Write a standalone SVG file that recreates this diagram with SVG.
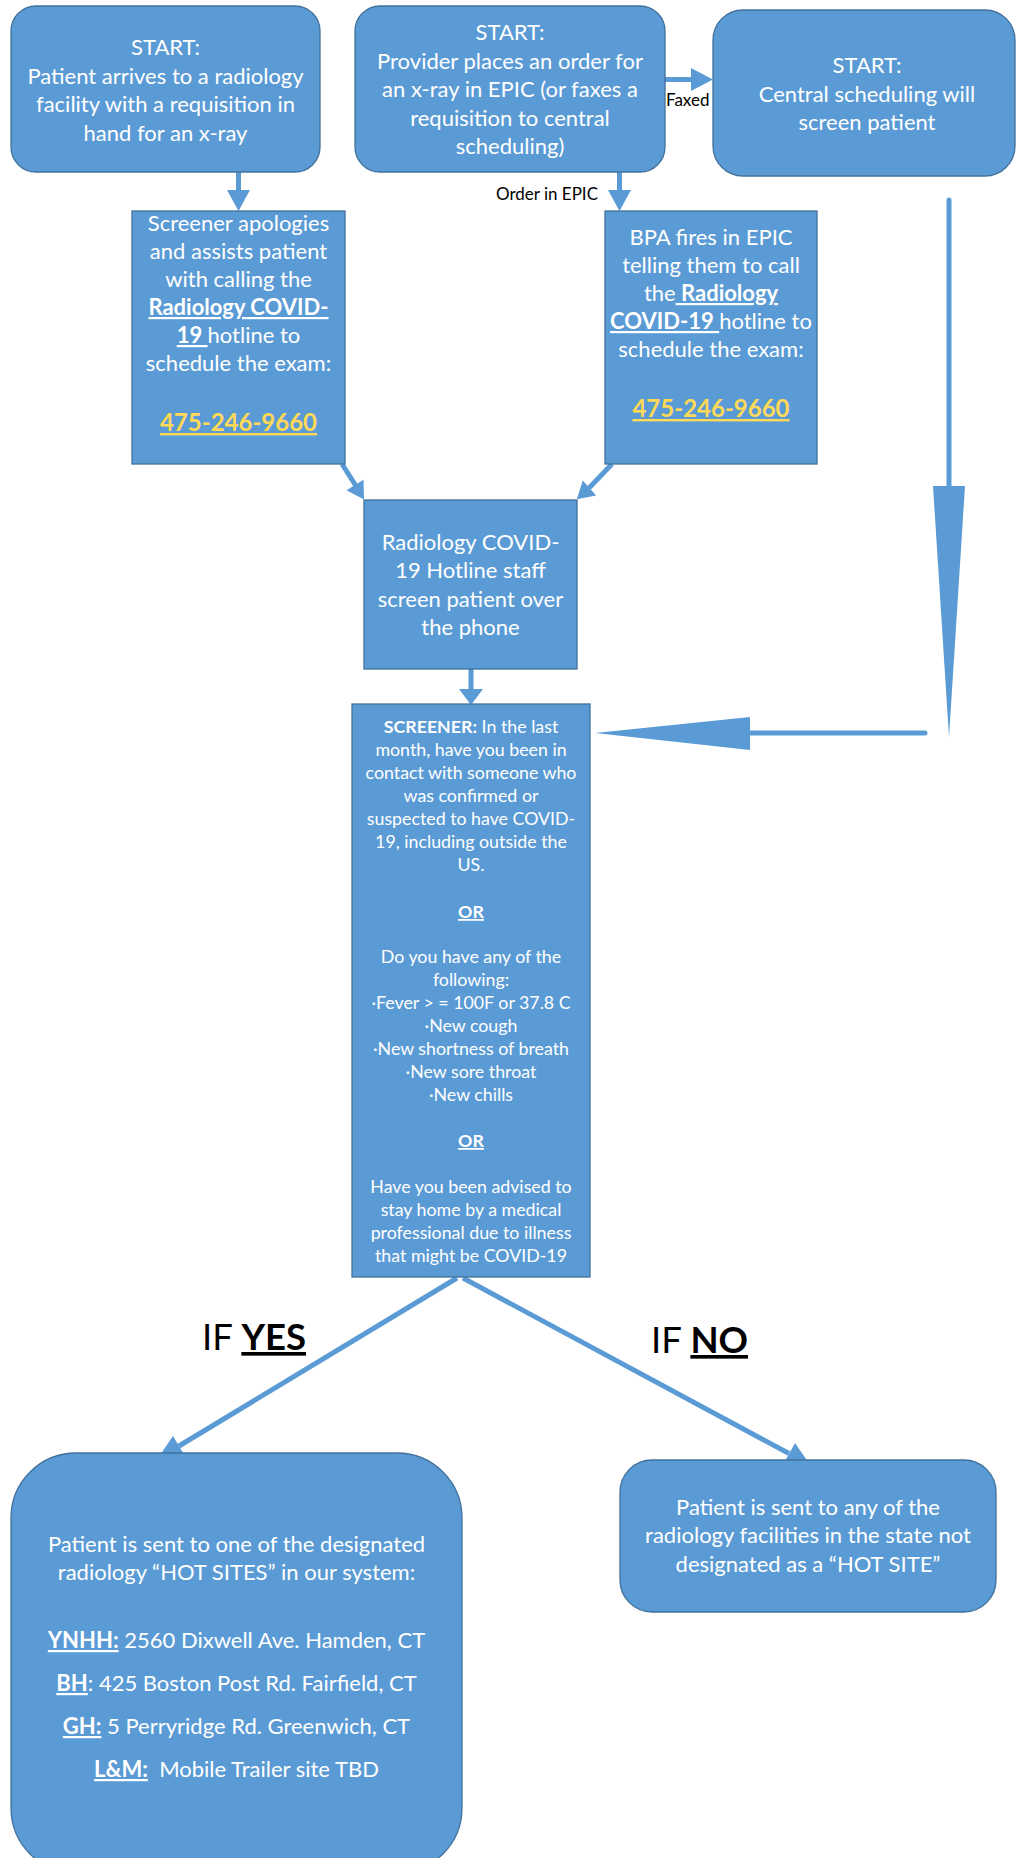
<svg xmlns="http://www.w3.org/2000/svg" width="1016" height="1858" viewBox="0 0 1016 1858">
<style>
text{font-family:Lato,"Liberation Sans",sans-serif;white-space:pre;}
.box{fill:#5B9BD5;stroke:#41719C;stroke-width:1.3;}
.t{fill:#FFFFFF;font-size:22px;text-anchor:middle;}
.s{fill:#FFFFFF;font-size:17.8px;text-anchor:middle;}
.ph{fill:#FFD957;font-size:24px;font-weight:bold;text-decoration:underline;}
.b{font-weight:bold;}
.u{text-decoration:underline;}
.lbl{fill:#000000;font-size:17px;}
.big{fill:#000000;font-size:36.5px;}
.ln{stroke:#5B9BD5;stroke-width:5;fill:none;}
.hd{fill:#5B9BD5;stroke:none;}
</style>
<rect width="1016" height="1858" fill="#FFFFFF"/>
<g id="connectors">
  <line class="ln" x1="238.5" y1="172" x2="238.5" y2="191" stroke-width="4.7"/>
  <polygon class="hd" points="227,190 250,190 238.5,211"/>
  <line class="ln" x1="619.5" y1="172" x2="619.5" y2="191" stroke-width="4.7"/>
  <polygon class="hd" points="608,190 631,190 619.5,211"/>
  <line class="ln" x1="665" y1="79.5" x2="692" y2="79.5" stroke-width="4.7"/>
  <polygon class="hd" points="691,68 691,91 713,79.5"/>
  <line class="ln" x1="342" y1="464" x2="356" y2="486"/>
  <polygon class="hd" points="363.5,479.7 346.5,490.3 364,499.5"/>
  <line class="ln" x1="612" y1="464" x2="589" y2="488"/>
  <polygon class="hd" points="596.2,495.5 582.8,480.5 576.8,499.3"/>
  <line class="ln" x1="471" y1="669" x2="471" y2="690" stroke-width="4.7"/>
  <polygon class="hd" points="459,689 483,689 471,705"/>
  <line class="ln" x1="949" y1="200" x2="949" y2="487" stroke-linecap="round"/>
  <polygon class="hd" points="933,486 965,486 949,737"/>
  <line class="ln" x1="925" y1="733" x2="749" y2="733" stroke-linecap="round"/>
  <polygon class="hd" points="750,717 750,750 595,733"/>
  <line class="ln" x1="457" y1="1278" x2="179" y2="1446" stroke-width="5.5"/>
  <polygon class="hd" points="173,1436 185,1456 158,1458"/>
  <line class="ln" x1="463" y1="1278" x2="789" y2="1453.5" stroke-width="5.5"/>
  <polygon class="hd" points="795,1443 783.4,1464 810.2,1465"/>
  <text class="lbl" x="666" y="106">Faxed</text>
  <text class="lbl" x="598" y="200" text-anchor="end" font-size="18">Order in EPIC</text>
  <text class="big" x="202" y="1350">IF <tspan class="b u">YES</tspan></text>
  <text class="big" x="651" y="1353">IF <tspan class="b u">NO</tspan></text>
</g>
<g id="start-walkin">
  <rect class="box" x="11" y="6" width="309" height="166" rx="25"/>
  <text class="t" x="165.5" y="55">START:</text>
  <text class="t" x="165.5" y="83.5">Patient arrives to a radiology</text>
  <text class="t" x="165.5" y="112">facility with a requisition in</text>
  <text class="t" x="165.5" y="140.5">hand for an x-ray</text>
</g>
<g id="start-provider">
  <rect class="box" x="355" y="6" width="310" height="166" rx="25"/>
  <text class="t" x="510" y="40">START:</text>
  <text class="t" x="510" y="68.5">Provider places an order for</text>
  <text class="t" x="510" y="97">an x-ray in EPIC (or faxes a</text>
  <text class="t" x="510" y="125.5">requisition to central</text>
  <text class="t" x="510" y="154">scheduling)</text>
</g>
<g id="start-central">
  <rect class="box" x="713" y="10" width="302" height="166" rx="30"/>
  <text class="t" x="867" y="73">START:</text>
  <text class="t" x="867" y="101.5">Central scheduling will</text>
  <text class="t" x="867" y="130">screen patient</text>
</g>
<g id="screener-apologies">
  <rect class="box" x="132" y="211" width="213" height="253"/>
  <text class="t" x="238.5" y="231">Screener apologies</text>
  <text class="t" x="238.5" y="259">and assists patient</text>
  <text class="t" x="238.5" y="287">with calling the</text>
  <text class="t" x="238.5" y="315"><tspan class="b u">Radiology COVID-</tspan></text>
  <text class="t" x="238.5" y="343"><tspan class="b u">19 </tspan>hotline to</text>
  <text class="t" x="238.5" y="371">schedule the exam:</text>
  <text class="t ph" x="238.5" y="431">475-246-9660</text>
</g>
<g id="bpa-fires">
  <rect class="box" x="605" y="211" width="212" height="253"/>
  <text class="t" x="711" y="245">BPA fires in EPIC</text>
  <text class="t" x="711" y="273">telling them to call</text>
  <text class="t" x="711" y="301">the<tspan class="b u"> Radiology</tspan></text>
  <text class="t" x="711" y="329"><tspan class="b u">COVID-19 </tspan>hotline to</text>
  <text class="t" x="711" y="357">schedule the exam:</text>
  <text class="t ph" x="711" y="417">475-246-9660</text>
</g>
<g id="hotline-staff">
  <rect class="box" x="364" y="500" width="213" height="169"/>
  <text class="t" x="470.5" y="550">Radiology COVID-</text>
  <text class="t" x="470.5" y="578">19 Hotline staff</text>
  <text class="t" x="470.5" y="607">screen patient over</text>
  <text class="t" x="470.5" y="635">the phone</text>
</g>
<g id="screener-questions">
  <rect class="box" x="352" y="704" width="238" height="573"/>
  <text class="s" x="471" y="733"><tspan class="b">SCREENER:</tspan> In the last</text>
  <text class="s" x="471" y="756">month, have you been in</text>
  <text class="s" x="471" y="779">contact with someone who</text>
  <text class="s" x="471" y="802">was confirmed or</text>
  <text class="s" x="471" y="825">suspected to have COVID-</text>
  <text class="s" x="471" y="848">19, including outside the</text>
  <text class="s" x="471" y="871">US.</text>
  <text class="s b u" x="471" y="918">OR</text>
  <text class="s" x="471" y="963">Do you have any of the</text>
  <text class="s" x="471" y="986">following:</text>
  <text class="s" x="471" y="1009">·Fever &gt; = 100F or 37.8 C</text>
  <text class="s" x="471" y="1032">·New cough</text>
  <text class="s" x="471" y="1055">·New shortness of breath</text>
  <text class="s" x="471" y="1078">·New sore throat</text>
  <text class="s" x="471" y="1101">·New chills</text>
  <text class="s b u" x="471" y="1147">OR</text>
  <text class="s" x="471" y="1193">Have you been advised to</text>
  <text class="s" x="471" y="1216">stay home by a medical</text>
  <text class="s" x="471" y="1239">professional due to illness</text>
  <text class="s" x="471" y="1262">that might be COVID-19</text>
</g>
<g id="hot-sites">
  <rect class="box" x="11" y="1453" width="451" height="420" rx="65"/>
  <text class="t" x="236.5" y="1552">Patient is sent to one of the designated</text>
  <text class="t" x="236.5" y="1580">radiology “HOT SITES” in our system:</text>
  <text class="t" x="236.5" y="1648"><tspan class="b u">YNHH:</tspan> 2560 Dixwell Ave. Hamden, CT</text>
  <text class="t" x="236.5" y="1691"><tspan class="b u">BH</tspan>: 425 Boston Post Rd. Fairfield, CT</text>
  <text class="t" x="236.5" y="1734"><tspan class="b u">GH:</tspan> 5 Perryridge Rd. Greenwich, CT</text>
  <text class="t" x="236.5" y="1777"><tspan class="b u">L&amp;M:</tspan>  Mobile Trailer site TBD</text>
</g>
<g id="non-hot-site">
  <rect class="box" x="620" y="1460" width="376" height="152" rx="32"/>
  <text class="t" x="808" y="1515">Patient is sent to any of the</text>
  <text class="t" x="808" y="1543">radiology facilities in the state not</text>
  <text class="t" x="808" y="1572">designated as a “HOT SITE”</text>
</g>
</svg>
